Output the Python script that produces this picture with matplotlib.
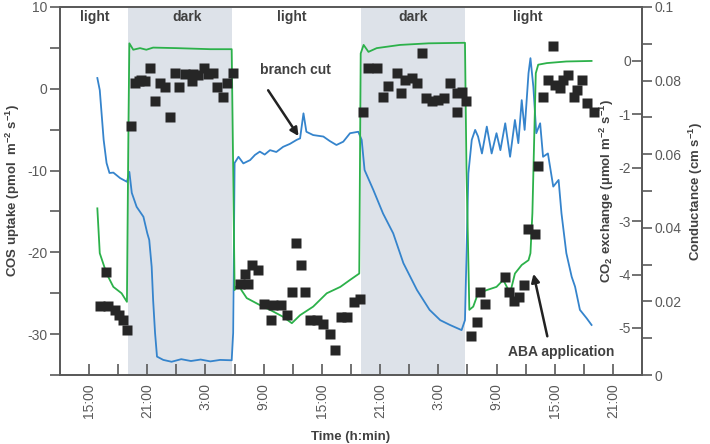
import matplotlib.pyplot as plt
import numpy as np

plt.rcParams['font.family'] = ['Liberation Sans', 'DejaVu Sans']
plt.rcParams['axes.unicode_minus'] = False
plt.rcParams['mathtext.default'] = 'regular'

# time axis in hours from midnight of day 0
# conductance (blue), cm s-1
cond_t = [15.85, 16.1, 16.5, 16.8, 17.1, 17.5, 18.2, 18.9, 19.15, 19.4, 19.9, 20.6, 21.0, 21.2,
          21.45, 21.6, 21.8, 22.0, 22.65, 23.5, 24.5, 25.5, 26.5, 27.5, 28.5, 29.7, 29.85, 30.0,
          30.4, 30.9, 31.6, 32.1, 32.6, 33.1, 33.65, 34.3, 35.0, 35.7, 36.4, 36.75, 37.1, 37.4,
          38.1, 39.15, 39.8, 40.5, 41.2, 41.9, 42.75, 43.1, 43.4, 44.3, 45.3, 46.35, 47.4, 48.8,
          50.1, 51.2, 52.2, 53.4, 53.75,
          54.1, 54.45, 54.8, 55.1, 55.5, 56.0, 56.5, 57.0, 57.4, 57.9, 58.4, 58.9, 59.25, 59.6,
          59.9, 60.3, 60.5, 60.8, 61.1, 61.5, 61.8, 62.3, 62.85, 63.4, 63.7, 64.2, 64.75, 65.1,
          65.6, 66.3, 66.8]
cond = [0.0807, 0.0774, 0.0639, 0.0576, 0.0549, 0.055, 0.0535, 0.0525, 0.0552, 0.0495, 0.0457,
        0.043, 0.0385, 0.0367, 0.0294, 0.0204, 0.0114, 0.005, 0.0041, 0.0036, 0.0043, 0.0038,
        0.0042, 0.0037, 0.0041, 0.0040, 0.0114, 0.0576, 0.0593, 0.0575, 0.0584, 0.0598, 0.0607,
        0.0599, 0.0611, 0.0606, 0.062, 0.0628, 0.0639, 0.0643, 0.0711, 0.0661, 0.0652, 0.0648,
        0.0636, 0.0625, 0.0634, 0.0657, 0.0661,
        0.0639, 0.0557, 0.0503, 0.0439, 0.0385, 0.0304, 0.0231, 0.0177, 0.0149, 0.0136, 0.0122,
        0.0149, 0.0548, 0.0639, 0.0666, 0.0648, 0.0602, 0.0675, 0.0602, 0.0657, 0.0611, 0.0684,
        0.0593, 0.0693, 0.063, 0.0747, 0.0666, 0.082, 0.0861, 0.0783, 0.0657, 0.0684, 0.0593,
        0.0602, 0.0512, 0.053, 0.0439, 0.0331, 0.0267, 0.024, 0.0177, 0.0154, 0.0136]

# CO2 exchange (green), umol m-2 s-1
co2_t = [15.85, 16.1, 16.8, 17.5, 18.35, 18.9, 19.05, 19.15, 19.55, 20.25, 20.9, 21.6, 24.0,
         27.5, 29.7, 29.85, 30.0, 30.4, 30.7, 31.25, 32.6, 33.65, 35.0, 35.9, 36.75, 38.1, 39.5,
         40.9, 41.9, 42.85, 43.0, 43.3, 43.8, 44.65, 47.05, 50.0, 53.75, 53.9, 54.2, 54.6, 55.1,
         56.0, 57.0, 57.7, 58.4, 58.9, 59.6, 60.3, 60.5, 60.7, 60.9, 61.05, 61.3, 62.2, 64.2, 66.8]
co2 = [-2.76, -3.6, -3.98, -4.23, -4.35, -4.51, -1.35, 0.33, 0.21, 0.24, 0.21, 0.25, 0.24,
       0.22, 0.22, -1.98, -4.29, -4.15, -4.29, -4.44, -4.57, -4.66, -4.79, -4.91, -4.76, -4.6,
       -4.35, -4.23, -4.1, -3.98, 0.14, 0.3, 0.17, 0.24, 0.3, 0.33, 0.34, -1.98, -4.66, -4.6,
       -4.35, -4.29, -4.23, -4.1, -4.35, -3.98, -3.82, -3.73, -3.6, -2.85, -1.35, -0.23, -0.07,
       -0.04, -0.01, 0.0]

# COS uptake (squares), pmol m-2 s-1
cos_t = [16.1, 16.75, 17.0, 17.7, 18.1, 18.45, 18.9,
         19.3, 19.7, 20.1, 20.4, 20.75, 21.3, 21.8, 22.3, 22.8, 23.3, 23.85, 24.3, 24.85, 25.6,
         25.75, 26.25, 26.8, 27.3, 27.8, 28.2, 28.8, 29.2, 29.85,
         30.55, 31.05, 31.4, 31.75, 32.45, 33.0, 33.8, 34.0, 34.8, 35.4, 35.9, 36.3, 36.85, 37.25,
         37.8, 38.45, 39.15, 39.85, 40.3, 41.0, 41.6, 42.3, 42.9,
         43.25, 43.8, 44.65, 45.3, 45.85, 46.7, 47.2, 47.6, 48.3, 48.8, 49.3, 49.7, 50.3, 51.0,
         51.6, 52.2, 52.9, 52.9, 53.4, 53.9,
         54.4, 55.0, 55.35, 55.85, 57.9, 58.25, 58.85, 59.3, 59.85, 60.2, 60.95, 61.3, 61.8,
         62.35, 62.85, 63.0, 63.5, 63.9, 64.4, 64.95, 65.3, 65.8, 66.35, 67.0]
cos = [-26.6, -22.4, -26.6, -27.1, -27.7, -28.3, -29.5,
       -4.6, 0.7, 0.9, 1.1, 0.9, 2.5, -1.55, 0.7, 0.2, -3.4, 1.9, 0.2, 1.85, 0.9,
       1.85, 1.7, 2.5, 1.85, 1.9, 0.2, -1.0, 0.7, 1.9,
       -23.85, -22.6, -23.85, -21.6, -22.1, -26.3, -28.3, -26.5, -26.5, -27.7, -24.9, -18.9,
       -21.6, -24.9, -28.3, -28.3, -28.75, -30.0, -32.0, -27.85, -27.85, -26.1, -25.7,
       -2.8, 2.5, 2.5, -0.95, 0.3, 1.9, -0.5, 1.1, 1.3, 0.7, 4.4, -1.15, -1.55, -1.35,
       -1.15, 0.7, -2.8, -0.5, -0.35, -1.55,
       -30.2, -28.55, -24.9, -26.3, -23.0, -24.8, -26.0, -25.5, -24.05, -17.1, -17.8, -9.5,
       -0.95, 1.1, 5.2, 0.5, 0.1, 1.1, 1.7, -0.95, -0.1, 1.1, -1.75, -2.8]

dark_periods = [(19.0, 29.7), (43.0, 53.75)]
period_labels = ['light', 'dark', 'light', 'dark', 'light']
period_centers = [15.6, 25.1, 35.9, 48.4, 60.25]

blue = '#3584cc'
green = '#2cb14a'
grey = '#5a5a5a'
txt = '#404040'

fig = plt.figure(figsize=(7.1, 4.44), dpi=100)
ax = fig.add_axes([60 / 710, 1 - 375 / 444, 582 / 710, 368 / 444])
ax_c = ax.twinx()
ax_co2 = ax.twinx()
ax.set_zorder(3)
ax.patch.set_visible(False)
ax_co2.set_zorder(2)
ax_c.set_zorder(1)

for a, b in dark_periods:
    ax_c.axvspan(a, b, color='#dde2e9', lw=0)

ax_c.plot(cond_t, cond, color=blue, lw=1.3)
ax_co2.plot(co2_t, co2, color=green, lw=1.3)
ax.plot(cos_t, cos, 's', color='#262626', ms=7.5, mec='none')

ax.set_xlim(12, 72)
ax.set_ylim(-35, 10)
ax_c.set_ylim(0, 0.1)
ax_co2.set_ylim(-5.88, 1.01)

# x ticks every 3 h, labelled every 6 h
xt = np.arange(15, 70, 3)
ax.set_xticks(xt)
ax.set_xticklabels(['%d:00' % (h % 24) if (h - 15) % 6 == 0 else '' for h in xt])
ax.tick_params(axis='x', direction='in', length=8, width=1.2, colors=grey,
               labelsize=10, labelrotation=90, pad=6)

yt = np.arange(-35, 11, 5)
ax.set_yticks(yt)
ax.set_yticklabels(['%d' % v if v % 10 == 0 else '' for v in yt])
ax.tick_params(axis='y', direction='out', length=7, width=1.2, colors=grey, labelsize=10, pad=2)

ct = np.arange(0, 0.1001, 0.01)
ax_c.set_yticks(ct)
ax_c.set_yticklabels(['%g' % round(v, 2) if i % 2 == 0 else '' for i, v in enumerate(ct)])
ax_c.tick_params(axis='y', direction='out', length=7, width=1.2, colors=grey, labelsize=10, pad=2)

ax_co2.yaxis.set_ticks_position('left')
ax_co2.yaxis.set_label_position('left')
ax_co2.spines['left'].set_position(('axes', 1.0))
ax_co2.set_yticks(np.arange(-5, 1, 1))
ax_co2.set_yticklabels(['%d' % v for v in np.arange(-5, 1, 1)])
ax_co2.tick_params(axis='y', direction='out', length=7, width=1.2, colors=grey, labelsize=10, pad=1)

for a in (ax, ax_c, ax_co2):
    for s in a.spines.values():
        s.set_color(grey)
        s.set_linewidth(1.3)
for s in ('top', 'bottom', 'right'):
    ax_co2.spines[s].set_visible(False)

lab = dict(fontsize=9.5, fontweight='bold', color=txt)
ax.set_ylabel('COS uptake (pmol  m$^{-2}$ s$^{-1}$)', labelpad=4, **lab)
ax.set_xlabel('Time (h:min)', labelpad=9, **lab)
ax_co2.set_ylabel('CO$_2$ exchange (µmol m$^{-2}$ s$^{-1}$)', labelpad=2, **lab)
ax_c.set_ylabel('Conductance (cm s$^{-1}$)', labelpad=4, **lab)

for x, s in zip(period_centers, period_labels):
    ax.text(x, 8.8, s, ha='center', va='center', fontsize=10, fontweight='bold', color=txt)

ax.text(36.3, 2.3, 'branch cut', ha='center', va='center', fontsize=10, fontweight='bold', color=txt)
ax_c.annotate('', xy=(36.75, 0.0643), xytext=(33.3, 0.078),
              arrowprops=dict(arrowstyle='-|>', color='#222222', lw=1.8, mutation_scale=12))
ax.text(63.65, -32.15, 'ABA application', ha='center', va='center', fontsize=10,
        fontweight='bold', color=txt)
ax.annotate('', xy=(60.75, -22.3), xytext=(62.3, -30.6),
            arrowprops=dict(arrowstyle='-|>', color='#222222', lw=1.8, mutation_scale=12))

fig.savefig('out.png', dpi=100)
